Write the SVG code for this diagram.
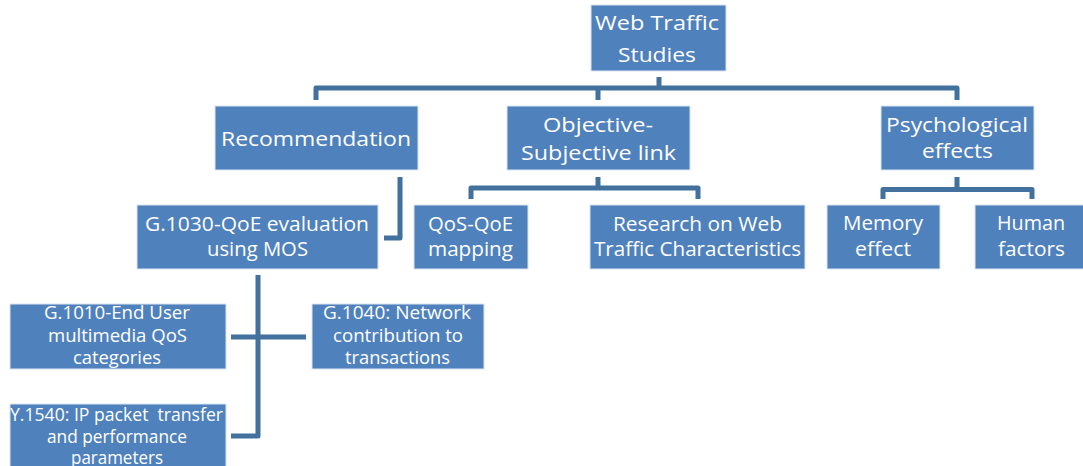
<svg xmlns="http://www.w3.org/2000/svg" width="1083" height="466" viewBox="0 0 1083 466">
<style>
.box{fill:#4F81BD;stroke:#dbe5f1;stroke-width:1}
.t{font-family:"Open Sans","Liberation Sans",sans-serif;fill:#ffffff;font-size:20px}
.s{font-size:18px}
.c{fill:none;stroke:#41719C;stroke-width:5;stroke-linejoin:round}
</style>
<rect width="1083" height="466" fill="#ffffff"/>
<g id="connectors">
<path class="c" d="M316,100 V88 H957 V100"/>
<path class="c" d="M659,77 V88"/>
<path class="c" d="M598,88 V100"/>
<path class="c" d="M400,177 V238 H384"/>
<path class="c" d="M471,199 V188 H698 V199"/>
<path class="c" d="M598,177 V188"/>
<path class="c" d="M883,199 V189.5 H1032 V199"/>
<path class="c" d="M957,177 V189.5"/>
<path class="c" d="M258,275 V436 H231"/>
<path class="c" d="M231,337 H306"/>
</g>
<g id="web-traffic-studies">
<rect class="box" x="591" y="5" width="135" height="66"/>
<text class="t" x="595" y="30" textLength="124" lengthAdjust="spacingAndGlyphs">Web Traffic</text>
<text class="t" x="618" y="62" textLength="78" lengthAdjust="spacingAndGlyphs">Studies</text>
</g>
<g id="recommendation">
<rect class="box" x="215" y="106" width="203" height="64"/>
<text class="t" x="221" y="146" textLength="190" lengthAdjust="spacingAndGlyphs">Recommendation</text>
</g>
<g id="objective-subjective">
<rect class="box" x="507" y="106" width="183" height="64"/>
<text class="t" x="543" y="132" textLength="110" lengthAdjust="spacingAndGlyphs">Objective-</text>
<text class="t" x="521" y="160" textLength="155" lengthAdjust="spacingAndGlyphs">Subjective link</text>
</g>
<g id="psychological-effects">
<rect class="box" x="881" y="106" width="153" height="64"/>
<text class="t" x="886" y="132" textLength="142" lengthAdjust="spacingAndGlyphs">Psychological</text>
<text class="t" x="922" y="158" textLength="71" lengthAdjust="spacingAndGlyphs">effects</text>
</g>
<g id="g1030">
<rect class="box" x="137" y="205" width="241" height="64"/>
<text class="t" x="145" y="231" textLength="224" lengthAdjust="spacingAndGlyphs">G.1030-QoE evaluation</text>
<text class="t" x="207" y="256" textLength="101" lengthAdjust="spacingAndGlyphs">using MOS</text>
</g>
<g id="qos-qoe">
<rect class="box" x="414" y="205" width="114" height="64"/>
<text class="t" x="428" y="231" textLength="85" lengthAdjust="spacingAndGlyphs">QoS-QoE</text>
<text class="t" x="428" y="256" textLength="85" lengthAdjust="spacingAndGlyphs">mapping</text>
</g>
<g id="research">
<rect class="box" x="590" y="205" width="215" height="64"/>
<text class="t" x="613" y="231" textLength="169" lengthAdjust="spacingAndGlyphs">Research on Web</text>
<text class="t" x="594" y="256" textLength="207" lengthAdjust="spacingAndGlyphs">Traffic Characteristics</text>
</g>
<g id="memory-effect">
<rect class="box" x="827" y="205" width="113" height="64"/>
<text class="t" x="843" y="230" textLength="80" lengthAdjust="spacingAndGlyphs">Memory</text>
<text class="t" x="855" y="256" textLength="56" lengthAdjust="spacingAndGlyphs">effect</text>
</g>
<g id="human-factors">
<rect class="box" x="975" y="205" width="110" height="64"/>
<text class="t" x="997" y="230" textLength="68" lengthAdjust="spacingAndGlyphs">Human</text>
<text class="t" x="998" y="256" textLength="67" lengthAdjust="spacingAndGlyphs">factors</text>
</g>
<g id="g1010">
<rect class="box" x="10" y="304" width="216" height="65"/>
<text class="t s" x="44" y="319" textLength="146" lengthAdjust="spacingAndGlyphs">G.1010-End User</text>
<text class="t s" x="48" y="342" textLength="139" lengthAdjust="spacingAndGlyphs">multimedia QoS</text>
<text class="t s" x="73" y="364" textLength="88" lengthAdjust="spacingAndGlyphs">categories</text>
</g>
<g id="g1040">
<rect class="box" x="312" y="304" width="172" height="65"/>
<text class="t s" x="323" y="319" textLength="148" lengthAdjust="spacingAndGlyphs">G.1040: Network</text>
<text class="t s" x="333" y="342" textLength="130" lengthAdjust="spacingAndGlyphs">contribution to</text>
<text class="t s" x="345" y="364" textLength="105" lengthAdjust="spacingAndGlyphs">transactions</text>
</g>
<g id="y1540">
<rect class="box" x="10" y="404" width="216" height="66"/>
<text class="t s" x="10" y="421" textLength="213" lengthAdjust="spacingAndGlyphs" xml:space="preserve">Y.1540: IP packet  transfer</text>
<text class="t s" x="47" y="443" textLength="140" lengthAdjust="spacingAndGlyphs">and performance</text>
<text class="t s" x="71" y="464" textLength="92" lengthAdjust="spacingAndGlyphs">parameters</text>
</g>
</svg>
